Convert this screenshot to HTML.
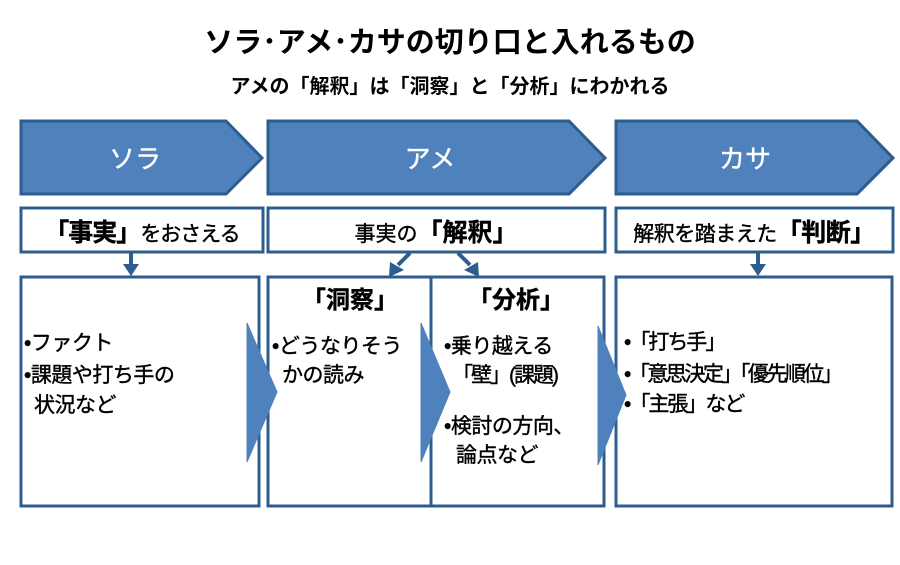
<!DOCTYPE html>
<html><head><meta charset="utf-8"><style>
body{margin:0;width:900px;height:560px;background:#fff;overflow:hidden;font-family:"Liberation Sans","Noto Sans CJK JP",sans-serif;}
</style></head><body>
<svg width="900" height="560" xmlns="http://www.w3.org/2000/svg" font-family="Liberation Sans, Noto Sans CJK JP, sans-serif">
<text x="450" y="52" text-anchor="middle" font-size="29" font-weight="bold" fill="#000">ソラ･アメ･カサの切り口と入れるもの</text>
<text x="450" y="93" text-anchor="middle" font-size="20" font-weight="bold" fill="#000">アメの「解釈」は「洞察」と「分析」にわかれる</text>
<g fill="#4f81bd" stroke="#2d5c8e" stroke-width="3">
<polygon points="21,121 226,121 262,158 226,194 21,194"/>
<polygon points="268,121 569,121 605,158 569,194 268,194"/>
<polygon points="616,121 857,121 893,158 857,194 616,194"/>
</g>
<g fill="#fff" font-size="26" text-anchor="middle" stroke="#fff" stroke-width="0.4">
<text x="135" y="168">ソラ</text><text x="430" y="168">アメ</text><text x="745" y="168">カサ</text>
</g>
<g fill="#fff" stroke="#2d5c8e" stroke-width="3">
<rect x="21" y="208" width="242" height="44"/>
<rect x="268" y="208" width="337" height="44"/>
<rect x="616" y="208" width="277" height="44"/>
<rect x="21" y="277" width="238" height="229"/>
<rect x="268" y="277" width="163" height="229"/>
<rect x="431" y="277" width="173" height="229"/>
<rect x="616" y="277" width="276" height="229"/>
</g>
<g fill="#000" font-size="21" text-anchor="middle" stroke="#000" stroke-width="0.4">
<text x="142" y="241" letter-spacing="-1"><tspan font-size="25" font-weight="bold">「事実」</tspan>をおさえる</text>
<text x="436" y="241">事実の<tspan font-size="25" font-weight="bold">「解釈」</tspan></text>
<text x="754" y="241" letter-spacing="-0.5">解釈を踏まえた<tspan font-size="25" font-weight="bold">「判断」</tspan></text>
<text x="350" y="308" font-size="24" font-weight="bold">「洞察」</text>
<text x="516" y="308" font-size="24" font-weight="bold">「分析」</text>
</g>
<g stroke="#2d5c8e" stroke-width="4" fill="#2d5c8e">
<line x1="131" y1="252" x2="131" y2="266"/><polygon points="123,264 139,264 131,276" stroke="none"/>
<line x1="410" y1="253" x2="398" y2="265"/><polygon points="390,262 404,270 389,277" stroke="none"/>
<line x1="458" y1="253" x2="470" y2="265"/><polygon points="478,262 464,270 479,277" stroke="none"/>
<line x1="758" y1="252" x2="758" y2="266"/><polygon points="750,264 766,264 758,276" stroke="none"/>
</g>
<g fill="#4f81bd" stroke="#4f81bd" stroke-width="1">
<polygon points="247,323 277,392 247,462"/>
<polygon points="421,323 450,392 421,462"/>
<polygon points="598,326 626,395 598,465"/>
</g>
<g fill="#000" font-size="21" stroke="#000" stroke-width="0.4" letter-spacing="-0.5">
<text x="24" y="350">•ファクト</text>
<text x="24" y="382">•課題や打ち手の</text>
<text x="34" y="412">状況など</text>
<text x="272" y="353">•どうなりそう</text>
<text x="282" y="382">かの読み</text>
<text x="444" y="353">•乗り越える</text>
<text x="452" y="382" letter-spacing="-2">「壁」(課題)</text>
<text x="444" y="433">•検討の方向、</text>
<text x="456" y="462">論点など</text>
<text x="624" y="349" letter-spacing="-2">•「打ち手」</text>
<text x="624" y="381" letter-spacing="-2.5">•「意思決定」「優先順位」</text>
<text x="624" y="411" letter-spacing="-2">•「主張」など</text>
</g>
</svg>
</body></html>
